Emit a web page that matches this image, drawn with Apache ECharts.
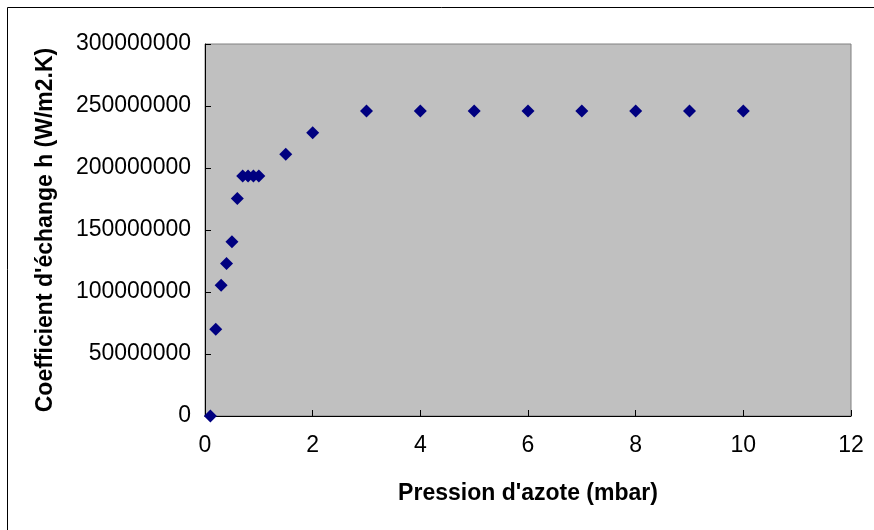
<!DOCTYPE html>
<html lang="fr">
<head>
    <meta charset="UTF-8">
    <title>Coefficient d'échange</title>
    <style>
        body { margin: 0; background: #ffffff; }
    </style>
</head>
<body>
<div id="main" style="width: 874px;height:530px;"></div>
<script src="https://cdn.jsdelivr.net/npm/echarts@6/dist/echarts.min.js"></script>
<script>
    // pression d'azote (mbar)
    var pressions = [0.1, 0.2, 0.3, 0.4, 0.5, 0.6, 0.7, 0.8, 0.9, 1.0, 1.5, 2, 3, 4, 5, 6, 7, 8, 9, 10];
    // coefficient d'échange h (W/m2.K)
    var coeffs = [0, 70000000, 105500000, 123000000, 140500000, 175500000,
        193500000, 193500000, 193500000, 193500000, 211000000, 228500000,
        246000000, 246000000, 246000000, 246000000, 246000000, 246000000, 246000000, 246000000];

    var points = [];
    for (var i = 0; i < pressions.length; i++) {
        points.push([pressions[i], coeffs[i]]);
    }

    var myChart = echarts.init(document.getElementById('main'));
    var police = 'Liberation Sans, Arial, sans-serif';

    var option = {
        animation: false,
        backgroundColor: '#ffffff',
        graphic: [
            {
                type: 'rect',
                shape: { x: 7.5, y: 7.5, width: 900, height: 560 },
                style: { fill: 'none', stroke: '#000000', lineWidth: 1 }
            }
        ],
        grid: {
            left: 205,
            right: 23,
            top: 44,
            bottom: 114,
            show: true,
            backgroundColor: '#c0c0c0',
            borderColor: '#808080',
            borderWidth: 1
        },
        xAxis: {
            type: 'value',
            min: 0,
            max: 12,
            interval: 2,
            name: "Pression d'azote (mbar)",
            nameLocation: 'middle',
            nameGap: 66,
            nameTextStyle: { fontFamily: police, fontSize: 23, fontWeight: 'bold', color: '#000' },
            axisLine: { lineStyle: { color: '#000', width: 1 } },
            axisTick: { inside: true, length: 6, lineStyle: { color: '#000' } },
            axisLabel: { fontFamily: police, fontSize: 23, color: '#000', margin: 18 },
            splitLine: { show: false }
        },
        yAxis: {
            type: 'value',
            min: 0,
            max: 300000000,
            interval: 50000000,
            name: "Coefficient d'échange h (W/m2.K)",
            nameLocation: 'middle',
            nameGap: 148,
            nameTextStyle: { fontFamily: police, fontSize: 23, fontWeight: 'bold', color: '#000' },
            axisLine: { show: true, lineStyle: { color: '#000', width: 1 } },
            axisTick: { show: true, inside: true, length: 6, lineStyle: { color: '#000' } },
            axisLabel: {
                fontFamily: police, fontSize: 23, color: '#000', margin: 14,
                formatter: function (v) { return String(v); }
            },
            splitLine: { show: false }
        },
        series: [
            {
                type: 'scatter',
                symbol: 'diamond',
                symbolSize: 13,
                itemStyle: { color: '#000080', opacity: 1 },
                data: points
            }
        ]
    };
    myChart.setOption(option);
</script>
</body>
</html>
